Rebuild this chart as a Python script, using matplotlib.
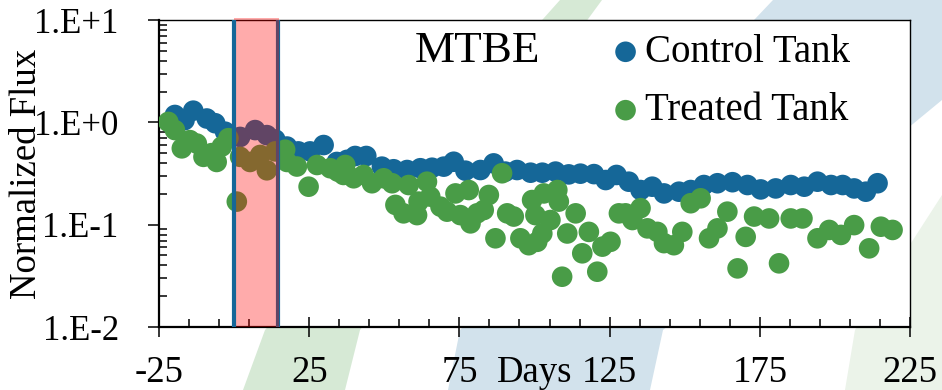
import matplotlib
matplotlib.use("Agg")
import matplotlib.pyplot as plt
from matplotlib.patches import Polygon
from matplotlib.ticker import FixedLocator, FixedFormatter, LogLocator, MultipleLocator, NullFormatter
import matplotlib.transforms as mtransforms

plt.rcParams["font.family"] = ["Liberation Serif", "DejaVu Serif"]

W, H = 942, 390

# data
control_days = [-19.7, -16.5, -13.6, -9.1, -6.3, -3.0, 2.0, 7.0, 10.9, 13.7, 17.6, 21.4,
                25.3, 29.8, 34.2, 37.6, 40.3, 44.0, 49.2, 53.1, 57.6, 62.0, 65.9, 69.8,
                73.1, 77.0, 82.0, 86.4, 90.3, 94.2, 98.7, 102.6, 107.0, 111.4, 115.3,
                119.8, 123.7, 127.3, 131.4, 135.3, 139.2, 143.1, 148.1, 152.0, 156.4,
                160.9, 165.9, 170.9, 175.3, 180.3, 185.3, 189.8, 194.2, 198.7, 202.6,
                206.4, 210.3, 214.2]
control_flux = [1.18, 1.05, 1.30, 1.09, 0.98, 0.81, 0.72, 0.84, 0.75, 0.68, 0.58, 0.52,
                0.52, 0.60, 0.41, 0.43, 0.469, 0.469, 0.369, 0.348, 0.342, 0.356, 0.36,
                0.369, 0.412, 0.337, 0.342, 0.397, 0.33, 0.342, 0.322, 0.322, 0.33, 0.31,
                0.315, 0.312, 0.273, 0.306, 0.263, 0.218, 0.235, 0.202, 0.21, 0.218,
                0.244, 0.254, 0.26, 0.244, 0.221, 0.226, 0.244, 0.235, 0.263, 0.244,
                0.244, 0.226, 0.21, 0.254]

treated_days = [-21.9, -19.7, -17.4, -14.7, -12.4, -10.2, -7.5, -5.8, -4.1, -1.9, 0.9,
                2.0, 5.3, 8.7, 10.9, 13.7, 17.0, 17.6, 20.9, 24.8, 27.6, 32.0, 34.5,
                36.4, 37.0, 39.8, 43.1, 45.9, 49.8, 52.6, 53.7, 56.4, 58.1, 60.9, 61.4,
                64.2, 65.3, 68.7, 70.9, 73.7, 75.3, 78.1, 78.7, 80.9, 83.1, 84.8, 87.0,
                89.2, 90.9, 93.1, 95.3, 98.1, 99.2, 100.3, 100.9, 102.6, 103.1, 105.3,
                107.6, 108.1, 109.2, 110.9, 113.7, 115.9, 118.1, 120.9, 122.6, 125.3,
                128.1, 130.3, 132.6, 135.3, 137.6, 140.9, 143.1, 146.4, 149.2, 152.0,
                155.3, 158.1, 160.9, 164.2, 167.6, 170.3, 173.1, 178.1, 181.4, 185.3,
                189.2, 194.2, 198.1, 202.0, 206.4, 211.4, 215.3, 219.2]
treated_flux = [1.01, 0.84, 0.557, 0.67, 0.62, 0.46, 0.50, 0.41, 0.58, 0.70, 0.168,
                0.46, 0.41, 0.48, 0.34, 0.52, 0.54, 0.41, 0.37, 0.235, 0.383, 0.356, 0.33,
                0.306, 0.383, 0.284, 0.306, 0.254, 0.284, 0.254, 0.156, 0.129, 0.244,
                0.124, 0.168, 0.263, 0.188, 0.15, 0.134, 0.202, 0.124, 0.218, 0.103,
                0.129, 0.139, 0.195, 0.0736, 0.318, 0.129, 0.12, 0.0736, 0.063, 0.174,
                0.124, 0.068, 0.082, 0.202, 0.111, 0.218, 0.168, 0.031, 0.082, 0.129,
                0.0525, 0.085, 0.0347, 0.061, 0.068, 0.129, 0.129, 0.111, 0.145, 0.092,
                0.085, 0.066, 0.063, 0.085, 0.162, 0.181, 0.0736, 0.092, 0.134, 0.0374,
                0.076, 0.12, 0.115, 0.0419, 0.115, 0.115, 0.0736, 0.0888, 0.0794, 0.099,
                0.0587, 0.0955, 0.0888]

treat_start, treat_end = 0.0, 14.5

x_ticks = [-25, 25, 75, 125, 175, 225]
x_labels = ["-25", "25", "75", "125", "175", "225"]
y_ticks = [0.01, 0.1, 1, 10]
y_labels = ["1.E-2", "1.E-1", "1.E+0", "1.E+1"]

BLUE = "#156798"
GREEN = "#499c47"


def fpx(x, y):
    return (x / W, 1 - y / H)


fig = plt.figure(figsize=(W / 100, H / 100), dpi=100)
fig.patch.set_facecolor("white")

# faint background swooshes
for pts, col in [
    ([(560, 0), (602, 0), (360, 330), (345, 390), (243, 390), (265, 330)], "#d6e9d5"),
    ([(773, 0), (942, 0), (942, 100), (663, 330), (650, 390), (448, 390), (460, 330)], "#d2e2ec"),
    ([(942, 195), (942, 390), (845, 390), (855, 330)], "#ebf3e9"),
]:
    fig.add_artist(Polygon([fpx(*p) for p in pts], closed=True, facecolor=col,
                           edgecolor="none", transform=fig.transFigure, zorder=0))

ax = fig.add_axes([159 / W, 1 - 327 / H, 751 / W, 307 / H])
ax.set_facecolor("white")
ax.set_zorder(1)

sc_c = ax.scatter(control_days, control_flux, s=220, color=BLUE, edgecolors="none",
                  zorder=3, label="Control Tank")
sc_t = ax.scatter(treated_days, treated_flux, s=220, color=GREEN, edgecolors="none",
                  zorder=3.2, label="Treated Tank")

ax.axvline(treat_end, color=BLUE, lw=3, zorder=3.5)
ax.axvspan(treat_start, treat_end + 0.6, ymin=0, ymax=1.007, color="red", alpha=0.33,
           lw=0, zorder=4, clip_on=False)
ax.axvline(treat_start, color=BLUE, lw=3, zorder=5)

ax.set_yscale("log")
ax.set_xlim(-25, 225)
ax.set_ylim(0.01, 10)

ax.xaxis.set_major_locator(FixedLocator(x_ticks))
ax.xaxis.set_major_formatter(FixedFormatter(x_labels))
ax.xaxis.set_minor_locator(MultipleLocator(10, offset=5))
ax.yaxis.set_major_locator(FixedLocator(y_ticks))
ax.yaxis.set_major_formatter(FixedFormatter(y_labels))
ax.yaxis.set_minor_locator(LogLocator(base=10, subs=range(2, 10)))
ax.yaxis.set_minor_formatter(NullFormatter())

ax.tick_params(axis="x", which="major", direction="inout", length=14.5, width=1.1,
               labelsize=26.5, pad=13)
ax.tick_params(axis="x", which="minor", direction="in", length=5.8, width=1.1)
ax.tick_params(axis="y", which="major", direction="out", length=8, width=1.1,
               labelsize=25, pad=21)
ax.tick_params(axis="y", which="minor", direction="in", length=5.8, width=1.1)

for side in ["left", "bottom"]:
    ax.spines[side].set_linewidth(1.6)
for side in ["top", "right"]:
    ax.spines[side].set_linewidth(1.0)

# "Days" sits in the tick-label row, between 75 and 125
ax.figure.canvas.draw()
lab = ax.xaxis.get_majorticklabels()[2]
ty = lab.get_position()[1]
blend = mtransforms.blended_transform_factory(ax.transData, lab.get_transform())
ax.text(100, ty, "Days", transform=blend, ha="center", va="top", fontsize=26.5)

fig.text(27 / W, 1 - 174 / H, "Normalized Flux", rotation=90, ha="center", va="center",
         fontsize=26.5)
fig.text(477 / W, 1 - 62 / H, "MTBE", ha="center", va="baseline", fontsize=32.5)

ax.legend(handles=[sc_c, sc_t], loc="upper left", bbox_to_anchor=(610 / W, 1 - 34 / H),
          bbox_transform=fig.transFigure, frameon=False, fontsize=28, handlelength=0.8,
          handletextpad=0.1, borderpad=0, borderaxespad=0, labelspacing=0.55,
          markerscale=1.0)

fig.savefig("out.png", dpi=100)
